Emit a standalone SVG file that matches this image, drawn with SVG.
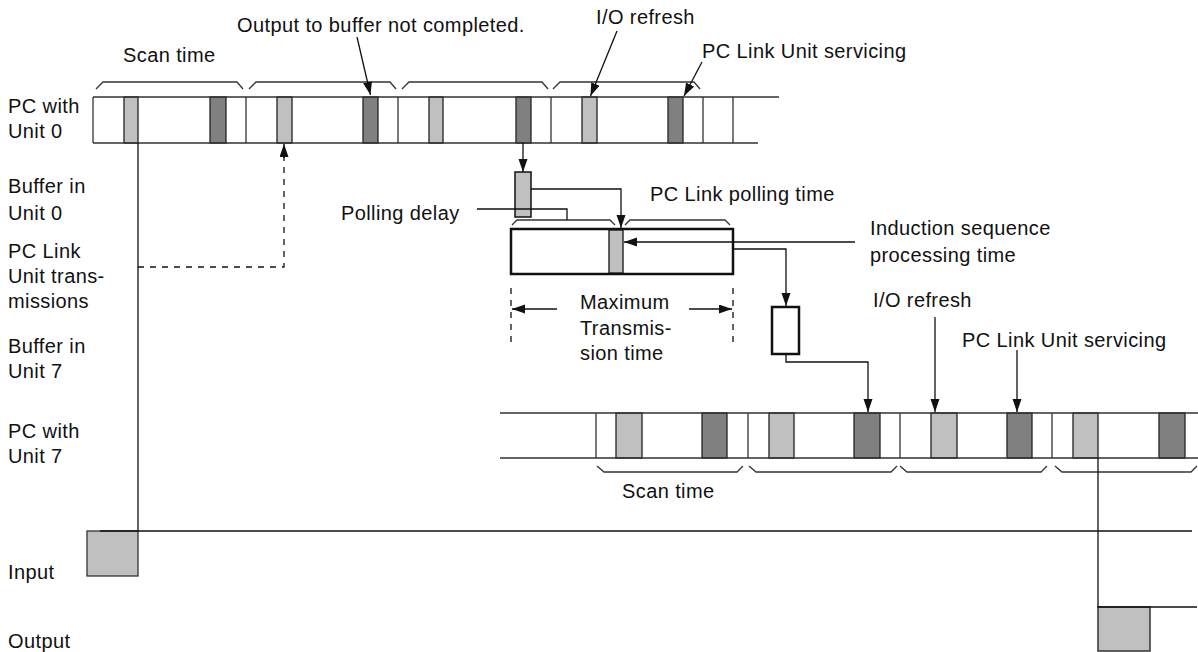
<svg xmlns="http://www.w3.org/2000/svg" width="1198" height="652" viewBox="0 0 1198 652">
<defs>
<style>
text{font-family:"Liberation Sans",Arial,sans-serif;font-size:20px;letter-spacing:0.4px;fill:#111}
.ln{stroke:#111;stroke-width:1.3;fill:none}
.bar{stroke:#333;stroke-width:1.3;fill:none}
.lt{fill:#c0c0c0;stroke:#222;stroke-width:1.3}
.dk{fill:#808080;stroke:#222;stroke-width:1.3}
.br{stroke:#333;stroke-width:1.3;fill:none}
.ds{stroke:#111;stroke-width:1.3;fill:none;stroke-dasharray:6,6}
.thick{stroke:#111;stroke-width:2.5;fill:#fff}
</style>
<marker id="arr" markerUnits="userSpaceOnUse" markerWidth="14" markerHeight="10" refX="13" refY="4.5" orient="auto">
<path d="M0,0 L13,4.5 L0,9 z" fill="#111"/>
</marker>
</defs>
<rect width="1198" height="652" fill="#fff"/>

<g id="labels-left">
<text x="8" y="113">PC with</text>
<text x="8" y="138">Unit 0</text>
<text x="8" y="193">Buffer in</text>
<text x="8" y="220">Unit 0</text>
<text x="8" y="258">PC Link</text>
<text x="8" y="283">Unit trans-</text>
<text x="8" y="308">missions</text>
<text x="8" y="353">Buffer in</text>
<text x="8" y="378">Unit 7</text>
<text x="8" y="438">PC with</text>
<text x="8" y="463">Unit 7</text>
<text x="8" y="579">Input</text>
<text x="8" y="648">Output</text>
</g>

<g id="pc-unit0">
<rect class="lt" x="124" y="97" width="14" height="46"/>
<rect class="lt" x="277" y="97" width="15" height="46"/>
<rect class="lt" x="429" y="97" width="14" height="46"/>
<rect class="lt" x="582" y="97" width="15" height="46"/>
<rect class="dk" x="210" y="97" width="16" height="46"/>
<rect class="dk" x="363" y="97" width="15" height="46"/>
<rect class="dk" x="516" y="97" width="15" height="46"/>
<rect class="dk" x="668" y="97" width="15" height="46"/>
<path class="bar" d="M93,97 H779 M93,143 H758 M93,97 V143 M246,97 V143 M398,97 V143 M551,97 V143 M703,97 V143 M733,97 V143"/>
<path class="br" d="M96,89 L103,82 H237 L243,89 M249,89 L256,82 H390 L396,89 M402,89 L409,82 H542 L548,89 M553,89 L560,82 H694 L700,89"/>
<text x="123" y="62">Scan time</text>
<text x="237" y="32">Output to buffer not completed.</text>
<text x="596" y="24">I/O refresh</text>
<text x="702" y="58">PC Link Unit servicing</text>
</g>

<g id="buffer-unit0">
<rect x="515" y="172" width="16" height="45" fill="#c0c0c0" stroke="#111" stroke-width="1.5"/>
</g>

<g id="transmission">
<rect class="thick" x="511" y="229" width="222" height="45"/>
<rect x="609" y="230" width="14" height="43" fill="#c0c0c0" stroke="#111" stroke-width="1.3"/>
<path class="br" d="M512,225 L517,220 H610 L615,225 M625,225 L630,220 H725 L730,225"/>
<text x="341" y="220">Polling delay</text>
<text x="650" y="201">PC Link polling time</text>
<text x="580" y="309">Maximum</text>
<text x="580" y="335">Transmis-</text>
<text x="580" y="360">sion time</text>
<text x="870" y="235">Induction sequence</text>
<text x="870" y="262">processing time</text>
</g>

<g id="buffer-unit7">
<rect class="thick" x="772" y="307" width="27" height="47"/>
</g>

<g id="pc-unit7">
<rect class="lt" x="616" y="413" width="26" height="45"/>
<rect class="lt" x="769" y="413" width="25" height="45"/>
<rect class="lt" x="931" y="413" width="26" height="45"/>
<rect class="lt" x="1073" y="413" width="25" height="45"/>
<rect class="dk" x="702" y="413" width="25" height="45"/>
<rect class="dk" x="854" y="413" width="26" height="45"/>
<rect class="dk" x="1007" y="413" width="25" height="45"/>
<rect class="dk" x="1159" y="413" width="26" height="45"/>
<path class="bar" d="M500,413 H1198 M500,458 H1198 M596,413 V458 M748,413 V458 M900,413 V458 M1052,413 V458"/>
<path class="br" d="M597,466 L604,472 H737 L743,466 M749,466 L756,472 H891 L897,466 M900,466 L907,472 H1041 L1047,466 M1055,466 L1062,472 H1191 L1197,466"/>
<text x="622" y="498">Scan time</text>
<text x="873" y="307">I/O refresh</text>
<text x="962" y="347">PC Link Unit servicing</text>
</g>

<g id="input">
<rect x="87" y="531" width="51" height="45" fill="#c0c0c0" stroke="#333" stroke-width="1.3"/>
</g>

<g id="output">
<rect x="1098" y="607" width="52" height="44" fill="#c0c0c0" stroke="#333" stroke-width="1.5"/>
</g>

<g id="connectors">
<path class="ln" d="M357,37 L370.5,95" marker-end="url(#arr)"/>
<path class="ln" d="M617,31 L590.5,96" marker-end="url(#arr)"/>
<path class="ln" d="M702,62 L684,96" marker-end="url(#arr)"/>
<path class="ln" d="M523,143 V172" marker-end="url(#arr)"/>
<path class="ln" d="M531,189 H621 V228" marker-end="url(#arr)"/>
<path class="ln" d="M477,209 H567 V220"/>
<path class="ln" d="M855,242 H624" marker-end="url(#arr)"/>
<path class="ln" d="M733,249 H786 V306" marker-end="url(#arr)"/>
<path class="ln" d="M786,354 V362 H868 V412" marker-end="url(#arr)"/>
<path class="ln" d="M935,317 V412" marker-end="url(#arr)"/>
<path class="ln" d="M1017,350 V412" marker-end="url(#arr)"/>
<path class="ds" d="M511,288 V343 M733,288 V343"/>
<path class="ln" d="M557,309 H512" marker-end="url(#arr)"/>
<path class="ln" d="M689,309 H732" marker-end="url(#arr)"/>
<path class="ds" d="M138,267 H284 V157"/>
<path class="ln" d="M284,158 V144" marker-end="url(#arr)"/>
<path class="ln" d="M138,143 V531 M100,531 H1192"/>
<path class="ln" d="M1098,458 V607 H1197"/>
</g>
</svg>
